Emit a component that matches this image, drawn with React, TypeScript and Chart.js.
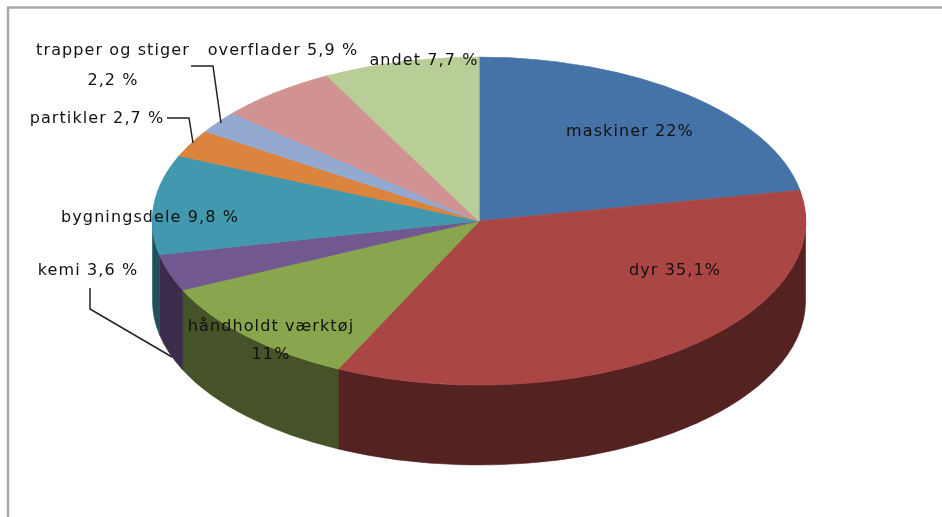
import React, { useEffect, useRef } from "react";
import { Chart, registerables } from "chart.js";

Chart.register(...registerables);

const categories = ["maskiner", "dyr", "håndholdt værktøj", "kemi", "bygningsdele", "partikler", "trapper og stiger", "overflader", "andet"];
const values = [22, 35.1, 11, 3.6, 9.8, 2.7, 2.2, 5.9, 7.7];
const valueTexts = ["22%", "35,1%", "11%", "3,6 %", "9,8 %", "2,7 %", "2,2 %", "5,9 %", "7,7 %"];
const topColors = ["#4573A7", "#AA4644", "#89A54E", "#71588F", "#4198AF", "#DB843D", "#93A9CF", "#D19392", "#B9CD96"];
const wallColors = ["#2A4565", "#552222", "#465227", "#3A2C4A", "#21505A", "#6E421E", "#4A5468", "#694949", "#5C664B"];

const CX = 479, CY = 221, RX = 326.5, RY = 164, DEPTH = 80;
const LABEL_COLOR = "#111111";
const labelLines: string[][] = categories.map((c, i) => {
  if (i === 2 || i === 6) return [c, valueTexts[i]];
  return [`${c} ${valueTexts[i]}`];
});
const labelAnchors: number[][] = [
  [630, 132], [675, 271], [271, 327], [88, 271], [150, 218], [97, 119], [113, 51], [283, 51], [424, 61],
];
const lineGaps = [0, 0, 28, 0, 0, 0, 30, 0, 0];
const leaders: number[][][] = [
  [[191, 66], [213, 66], [221, 123]],
  [[167, 118], [189, 118], [193, 143]],
  [[90, 288], [90, 309], [172, 357]],
];

const pie3d = {
  id: "pie3d",
  beforeDraw(chart: any) {
    const { ctx, width, height } = chart;
    ctx.save();
    ctx.fillStyle = "#ffffff";
    ctx.fillRect(0, 0, width, height);
    ctx.strokeStyle = "#A8A8A8";
    ctx.lineWidth = 2.5;
    ctx.beginPath();
    ctx.moveTo(8, height);
    ctx.lineTo(8, 7.5);
    ctx.lineTo(width, 7.5);
    ctx.stroke();
    ctx.restore();
  },
  beforeDatasetsDraw(chart: any) {
    const { ctx } = chart;
    const arcs = chart.getDatasetMeta(0).data;
    // side wall: the front half of each slice's rim, swept down by the depth
    arcs.forEach((arc: any, i: number) => {
      const a = Math.max(arc.startAngle, 0);
      const b = Math.min(arc.endAngle, Math.PI);
      if (b <= a) return;
      ctx.fillStyle = wallColors[i];
      ctx.strokeStyle = wallColors[i];
      ctx.lineWidth = 0.6;
      ctx.beginPath();
      ctx.ellipse(CX, CY, RX, RY, 0, a, b);
      ctx.ellipse(CX, CY + DEPTH, RX, RY, 0, b, a, true);
      ctx.closePath();
      ctx.fill();
      ctx.stroke();
    });
    const a = arcs[0];
    ctx.save();
    ctx.translate(CX, CY);
    ctx.scale(RX / a.outerRadius, RY / a.outerRadius);
    ctx.translate(-a.x, -a.y);
  },
  afterDatasetsDraw(chart: any) {
    const { ctx } = chart;
    ctx.restore();
    ctx.strokeStyle = "#222222";
    ctx.lineWidth = 1.5;
    leaders.forEach((pts) => {
      ctx.beginPath();
      pts.forEach((p, k) => (k === 0 ? ctx.moveTo(p[0], p[1]) : ctx.lineTo(p[0], p[1])));
      ctx.stroke();
    });
    ctx.fillStyle = LABEL_COLOR;
    ctx.font = '16px "DejaVu Sans"';
    (ctx as any).letterSpacing = "1.1px";
    ctx.textAlign = "center";
    ctx.textBaseline = "middle";
    labelLines.forEach((lines, i) => {
      lines.forEach((line, k) => {
        ctx.fillText(line, labelAnchors[i][0], labelAnchors[i][1] + k * lineGaps[i]);
      });
    });
    (ctx as any).letterSpacing = "0px";
  },
};

export default function App() {
  const ref = useRef<HTMLCanvasElement>(null);
  useEffect(() => {
    const chart = new Chart(ref.current as HTMLCanvasElement, {
      type: "pie",
      data: {
        labels: categories,
        datasets: [{ data: values, backgroundColor: topColors, borderColor: topColors, borderWidth: 1 }],
      },
      options: {
        responsive: false,
        animation: false,
        plugins: { legend: { display: false }, tooltip: { enabled: false } },
      },
      plugins: [pie3d],
    } as any);
    return () => chart.destroy();
  }, []);
  return (
    <div style={{ position: "absolute", left: 0, top: 0, width: 942, height: 517, overflow: "hidden", background: "#fff" }}>
      <canvas ref={ref} width={942} height={517} style={{ display: "block", filter: "blur(0.5px)" }} />
    </div>
  );
}
